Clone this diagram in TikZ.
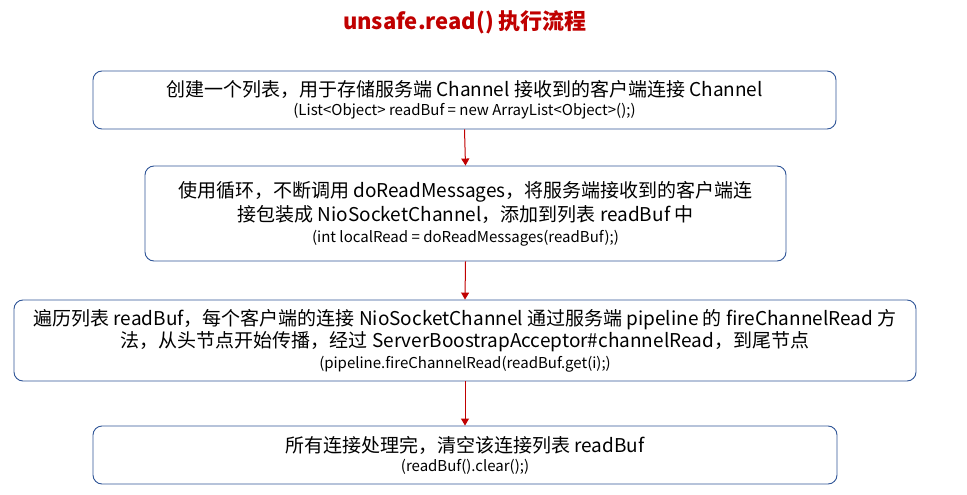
\documentclass[tikz,border=0pt]{standalone}
\usepackage{fontspec}
\setmainfont{Noto Sans CJK SC}
\usetikzlibrary{arrows.meta}
\definecolor{boxline}{HTML}{2F5597}
\definecolor{darkred}{HTML}{C00000}
\tikzset{
  stepbox/.style={draw=boxline, line width=0.9pt, rounded corners=9pt, align=center,
    inner sep=0pt, font=\fontsize{19}{23}\selectfont},
  flow/.style={draw=darkred, line width=1pt, -{Triangle[length=7pt,width=8pt]}},
}
\newcommand{\subtxt}[1]{{\fontsize{15}{17}\selectfont #1}}
\begin{document}
\begin{tikzpicture}[x=1pt,y=-1pt]
\useasboundingbox (0,0) rectangle (967,495);
\node[text=darkred, font=\fontsize{22}{26}\selectfont\bfseries] (title) at (465,22) {unsafe.read() 执行流程};
\node[stepbox, minimum width=743pt, minimum height=58pt] (b1) at (464.5,100)
  {创建一个列表，用于存储服务端 Channel 接收到的客户端连接 Channel\\[-4pt]
   \subtxt{(List<Object> readBuf = new ArrayList<Object>();)}};
\node[stepbox, minimum width=641pt, minimum height=95pt] (b2) at (465.5,213.5)
  {\rule{0pt}{5pt}使用循环，不断调用 doReadMessages，将服务端接收到的客户端连\\[1pt]
   接包装成 NioSocketChannel，添加到列表 readBuf 中\\[-2pt]
   \subtxt{(int localRead = doReadMessages(readBuf);)}};
\node[stepbox, minimum width=902pt, minimum height=81pt] (b3) at (465,340.5)
  {遍历列表 readBuf，每个客户端的连接 NioSocketChannel 通过服务端 pipeline 的 fireChannelRead 方\\[-1pt]
   法，从头节点开始传播，经过 ServerBoostrapAcceptor\#channelRead，到尾节点\\[-2pt]
   \subtxt{(pipeline.fireChannelRead(readBuf.get(i);)}};
\node[stepbox, minimum width=744pt, minimum height=58pt] (b4) at (465,455)
  {所有连接处理完，清空该连接列表 readBuf\\[-4pt]
   \subtxt{(readBuf().clear();)}};
\draw[flow] (b1.south) -- (b2.north);
\draw[flow] (b2.south) -- (b3.north);
\draw[flow] (b3.south) -- (b4.north);
\end{tikzpicture}
\end{document}
